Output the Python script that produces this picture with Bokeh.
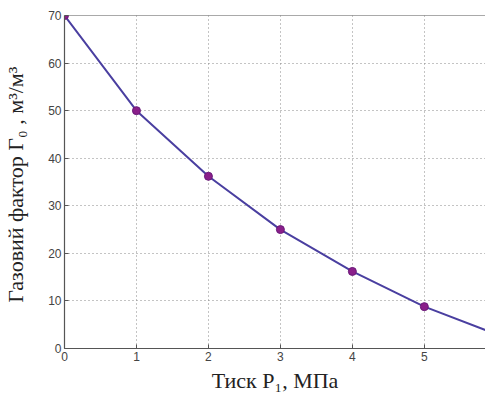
from bokeh.plotting import figure
from bokeh.models import Range1d, FixedTicker, Span
from bokeh.embed import file_html
from bokeh.resources import INLINE

pressure = [0, 1, 2, 3, 4, 5, 6]
gas_factor = [70, 50, 36.2, 25, 16.2, 8.8, 3.0]
marker_x = pressure[:6]
marker_y = gas_factor[:6]
x_ticks = [0, 1, 2, 3, 4, 5, 6]
y_ticks = [0, 10, 20, 30, 40, 50, 60, 70]

p = figure(frame_width=421, frame_height=333, output_backend="svg", toolbar_location=None,
           x_range=Range1d(0, 5.85), y_range=Range1d(0, 70),
           min_border_left=63, min_border_top=15, min_border_right=0, min_border_bottom=30)
p.background_fill_color = "white"
p.border_fill_color = "white"
p.outline_line_color = None

p.line(pressure, gas_factor, line_color="#4a3fa0", line_width=2)
p.scatter(marker_x, marker_y, size=8, fill_color="#8a1f8a", line_color="#6a1a7a")

p.add_layout(Span(location=70, dimension="width", line_color="#555555", line_width=1.2))

p.xaxis.ticker = FixedTicker(ticks=x_ticks)
p.yaxis.ticker = FixedTicker(ticks=y_ticks)
for ax in (p.xaxis[0], p.yaxis[0]):
    ax.major_tick_in = 4
    ax.major_tick_out = 0
    ax.minor_tick_line_color = None
    ax.axis_line_color = "#555555"
    ax.axis_line_width = 1.2
    ax.major_tick_line_color = "#555555"
    ax.major_label_text_font = "Liberation Sans"
    ax.major_label_text_font_size = "12px"
    ax.major_label_text_color = "#444444"
    ax.axis_label_text_font = "Liberation Serif"
    ax.axis_label_text_font_style = "normal"
    ax.axis_label_text_font_size = "22px"
    ax.axis_label_text_color = "#222222"

p.xaxis.axis_label = "Тиск P\u2081, МПа"
p.yaxis.axis_label = "Газовий фактор  Г\u2080 , м\u00b3/м\u00b3"
p.xaxis.major_label_standoff = 3
p.yaxis.major_label_standoff = 3
p.xaxis.axis_label_standoff = 4
p.yaxis.axis_label_standoff = 17

p.xgrid.grid_line_color = "#888888"
p.ygrid.grid_line_color = "#888888"
p.xgrid.grid_line_dash = "1 3"
p.ygrid.grid_line_dash = "1 3"
p.xgrid.grid_line_width = 1
p.ygrid.grid_line_width = 1

open("out.html", "w").write(file_html(p, INLINE))
